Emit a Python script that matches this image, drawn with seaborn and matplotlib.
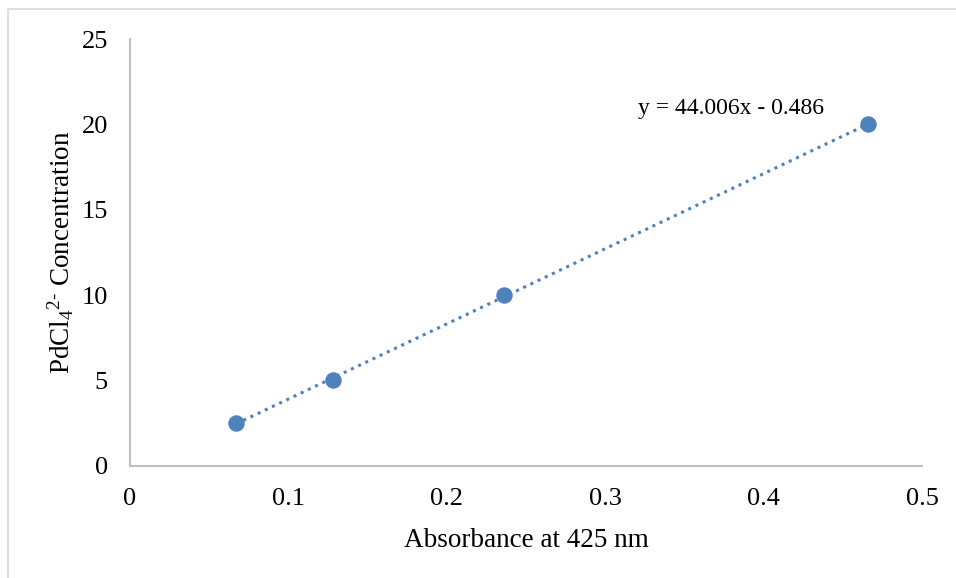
import numpy as np
import pandas as pd
import matplotlib
matplotlib.use('Agg')
import matplotlib.pyplot as plt
import seaborn as sns

# Dados
absorbance = [0.067, 0.128, 0.236, 0.466]
concentration = [2.5, 5, 10, 20]
slope = 44.006
intercept = -0.486
equation_label = 'y = 44.006x - 0.486'

x_ticks = [0, 0.1, 0.2, 0.3, 0.4, 0.5]
x_tick_labels = ['0', '0.1', '0.2', '0.3', '0.4', '0.5']
y_ticks = [0, 5, 10, 15, 20, 25]

df = pd.DataFrame({'abs': absorbance, 'conc': concentration})

sns.set_style('white')
plt.rcParams['font.family'] = ['Liberation Serif', 'DejaVu Serif']
plt.rcParams['mathtext.fontset'] = 'custom'
plt.rcParams['mathtext.rm'] = 'Liberation Serif'
plt.rcParams['mathtext.it'] = 'Liberation Serif:italic'
plt.rcParams['text.color'] = 'black'
plt.rcParams['axes.labelcolor'] = 'black'
plt.rcParams['xtick.color'] = 'black'
plt.rcParams['ytick.color'] = 'black'

color = '#4F81BD'

fig = plt.figure(figsize=(9.56, 5.78), dpi=100)
ax = fig.add_axes([0.136, 0.194, 0.8284, 0.7385])

# Linha de tendência (linear)
fit = pd.DataFrame({'abs': [min(absorbance), max(absorbance)]})
fit['conc'] = slope * fit['abs'] + intercept
sns.lineplot(data=fit, x='abs', y='conc', ax=ax, color=color,
             linestyle=(0, (1, 1.6)), linewidth=2.2, zorder=2)

sns.scatterplot(data=df, x='abs', y='conc', ax=ax, color=color,
                s=140, edgecolor=color, linewidth=0, zorder=3)

ax.text(0.3207, 20.95, equation_label, fontsize=17, ha='left', va='center')

ax.set_xlim(0, 0.5)
ax.set_ylim(0, 25)
ax.set_xticks(x_ticks)
ax.set_xticklabels(x_tick_labels)
ax.set_yticks(y_ticks)
ax.tick_params(axis='both', length=0, labelsize=19)
ax.tick_params(axis='y', pad=16)
ax.tick_params(axis='x', pad=16)

ax.set_xlabel('Absorbance at 425 nm', fontsize=19.5, labelpad=13)
ax.set_ylabel(r'PdCl$_4$$^{2\text{-}}$ Concentration', fontsize=19.5, labelpad=4)

for side in ['top', 'right']:
    ax.spines[side].set_visible(False)
for side in ['left', 'bottom']:
    ax.spines[side].set_color('#BFBFBF')
    ax.spines[side].set_linewidth(1.5)

# Borda do gráfico (só as bordas de cima e da esquerda ficam visíveis)
border = plt.Rectangle((0.0088, -0.05), 1.1, 1.0336, transform=fig.transFigure,
                       fill=False, edgecolor='#D9D9D9', linewidth=1.2)
fig.patches.append(border)

plt.savefig('out.png', dpi=100)
plt.close(fig)
